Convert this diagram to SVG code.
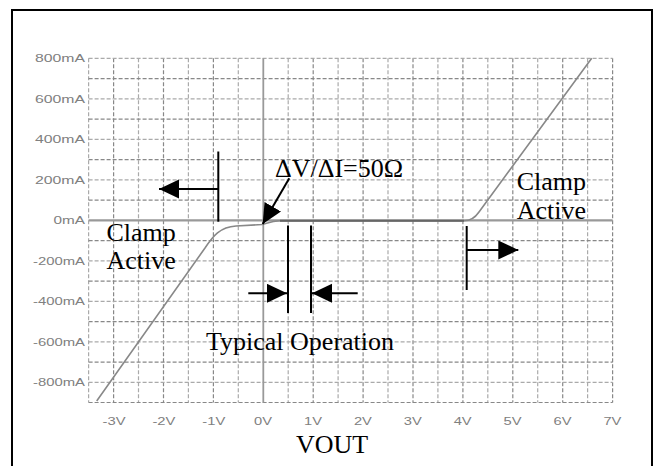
<svg xmlns="http://www.w3.org/2000/svg" width="657" height="466" viewBox="0 0 657 466">
  <defs>
    <style>
      .gl { stroke: #aaaaaa; stroke-width: 1.2; stroke-dasharray: 4 2; fill: none; }
      .gd { stroke: #888888; stroke-width: 1.2; stroke-dasharray: 4 2; fill: none; }
      .ax { stroke: #999999; fill: none; }
      .lbl { font-family: "Liberation Sans", Arial, sans-serif; font-size: 11px; fill: #808080; }
      .ann { font-family: "Liberation Serif", "Times New Roman", serif; font-size: 26px; fill: #000; }
      .bl { stroke: #000; stroke-width: 2; fill: none; }
    </style>
    <marker id="ah" markerUnits="userSpaceOnUse" markerWidth="22" markerHeight="22" refX="20" refY="9.5" orient="auto">
      <path d="M0,0 L20,9.5 L0,19 z" fill="#000"/>
    </marker>
  </defs>
  <rect x="0" y="0" width="657" height="466" fill="#fff"/>
  <rect x="12" y="10" width="640" height="470" fill="none" stroke="#000" stroke-width="2"/>

  <g id="grid">
    <!-- vertical lines: half-volt steps from -3.5V (88.6) to 7V (612.6) -->
    <path class="gl" d="M88.6,58.3V402.5 M138.5,58.3V402.5 M188.4,58.3V402.5 M238.3,58.3V402.5 M288.2,58.3V402.5 M338.1,58.3V402.5 M388,58.3V402.5 M437.9,58.3V402.5 M487.8,58.3V402.5 M537.7,58.3V402.5 M587.6,58.3V402.5"/>
    <path class="gd" d="M113.6,58.3V402.5 M163.5,58.3V402.5 M213.4,58.3V402.5 M313.2,58.3V402.5 M363.1,58.3V402.5 M413,58.3V402.5 M462.9,58.3V402.5 M512.8,58.3V402.5 M562.7,58.3V402.5 M612.6,58.3V402.5"/>
    <!-- horizontal lines: 100mA steps from 800mA (58.3) to -900mA (402.5) -->
    <path class="gl" d="M88.6,58.3H612.6 M88.6,98.8H612.6 M88.6,139.3H612.6 M88.6,179.8H612.6 M88.6,260.8H612.6 M88.6,301.3H612.6 M88.6,341.8H612.6 M88.6,382.3H612.6"/>
    <path class="gd" d="M88.6,78.55H612.6 M88.6,119.05H612.6 M88.6,159.55H612.6 M88.6,200.05H612.6 M88.6,240.55H612.6 M88.6,281.05H612.6 M88.6,321.55H612.6 M88.6,362.05H612.6 M88.6,402.5H612.6"/>
    <line class="ax" x1="263.3" y1="58.3" x2="263.3" y2="402.5" stroke-width="1.8"/>
    <line class="ax" x1="88.6" y1="220.3" x2="612.6" y2="220.3" stroke-width="2.2"/>
  </g>

  <g id="y-labels">
    <text class="lbl" x="85" y="62.3" text-anchor="end" textLength="50" lengthAdjust="spacingAndGlyphs">800mA</text>
    <text class="lbl" x="85" y="102.8" text-anchor="end" textLength="50" lengthAdjust="spacingAndGlyphs">600mA</text>
    <text class="lbl" x="85" y="143.3" text-anchor="end" textLength="50" lengthAdjust="spacingAndGlyphs">400mA</text>
    <text class="lbl" x="85" y="183.8" text-anchor="end" textLength="50" lengthAdjust="spacingAndGlyphs">200mA</text>
    <text class="lbl" x="85" y="224.3" text-anchor="end" textLength="31.5" lengthAdjust="spacingAndGlyphs">0mA</text>
    <text class="lbl" x="85" y="264.8" text-anchor="end" textLength="52" lengthAdjust="spacingAndGlyphs">-200mA</text>
    <text class="lbl" x="85" y="305.3" text-anchor="end" textLength="52" lengthAdjust="spacingAndGlyphs">-400mA</text>
    <text class="lbl" x="85" y="345.8" text-anchor="end" textLength="52" lengthAdjust="spacingAndGlyphs">-600mA</text>
    <text class="lbl" x="85" y="386.3" text-anchor="end" textLength="52" lengthAdjust="spacingAndGlyphs">-800mA</text>
  </g>

  <g id="x-labels">
    <text class="lbl" x="102.5" y="424.5" textLength="23" lengthAdjust="spacingAndGlyphs">-3V</text>
    <text class="lbl" x="152.4" y="424.5" textLength="23" lengthAdjust="spacingAndGlyphs">-2V</text>
    <text class="lbl" x="202.3" y="424.5" textLength="23" lengthAdjust="spacingAndGlyphs">-1V</text>
    <text class="lbl" x="254.1" y="424.5" textLength="18" lengthAdjust="spacingAndGlyphs">0V</text>
    <text class="lbl" x="304" y="424.5" textLength="18" lengthAdjust="spacingAndGlyphs">1V</text>
    <text class="lbl" x="353.9" y="424.5" textLength="18" lengthAdjust="spacingAndGlyphs">2V</text>
    <text class="lbl" x="403.8" y="424.5" textLength="18" lengthAdjust="spacingAndGlyphs">3V</text>
    <text class="lbl" x="453.7" y="424.5" textLength="18" lengthAdjust="spacingAndGlyphs">4V</text>
    <text class="lbl" x="503.6" y="424.5" textLength="18" lengthAdjust="spacingAndGlyphs">5V</text>
    <text class="lbl" x="553.5" y="424.5" textLength="18" lengthAdjust="spacingAndGlyphs">6V</text>
    <text class="lbl" x="603.4" y="424.5" textLength="18" lengthAdjust="spacingAndGlyphs">7V</text>
  </g>

  <g id="curve">
    <path d="M96.7,401 L205,248 C213,236 220,227 236,226 L262,224.5 C268,223 271,221 280,220.8 L464,220.8 Q473,220.8 479,212 L591.7,58.3" fill="none" stroke="#888" stroke-width="1.6"/>
    <path d="M280,220.8 L464,220.8" fill="none" stroke="#666" stroke-width="2"/>
  </g>

  <g id="connectors">
    <line class="bl" x1="218.3" y1="151.5" x2="218.3" y2="221.7"/>
    <line class="bl" x1="218.3" y1="189" x2="159" y2="189" marker-end="url(#ah)"/>
    <line class="bl" x1="466.7" y1="226" x2="466.7" y2="290"/>
    <line class="bl" x1="466.7" y1="250" x2="518.3" y2="250" marker-end="url(#ah)"/>
    <line class="bl" x1="288" y1="225.5" x2="288" y2="313"/>
    <line class="bl" x1="311" y1="225.5" x2="311" y2="313"/>
    <line class="bl" x1="248.3" y1="293.3" x2="287" y2="293.3" marker-end="url(#ah)"/>
    <line class="bl" x1="357.7" y1="293.3" x2="312" y2="293.3" marker-end="url(#ah)"/>
    <line class="bl" x1="289.3" y1="178.3" x2="262.7" y2="224" marker-end="url(#ah)"/>
  </g>

  <g id="label-slope"><text class="ann" x="275" y="177.3">ΔV/ΔI=50Ω</text></g>
  <g id="label-clamp-left">
    <text class="ann" x="106.5" y="240.5">Clamp</text>
    <text class="ann" x="106.5" y="269">Active</text>
  </g>
  <g id="label-clamp-right">
    <text class="ann" x="516.7" y="189.5">Clamp</text>
    <text class="ann" x="516.7" y="219">Active</text>
  </g>
  <g id="label-typical"><text class="ann" x="206" y="350">Typical Operation</text></g>
  <g id="label-vout"><text class="ann" x="296" y="453">VOUT</text></g>
</svg>
